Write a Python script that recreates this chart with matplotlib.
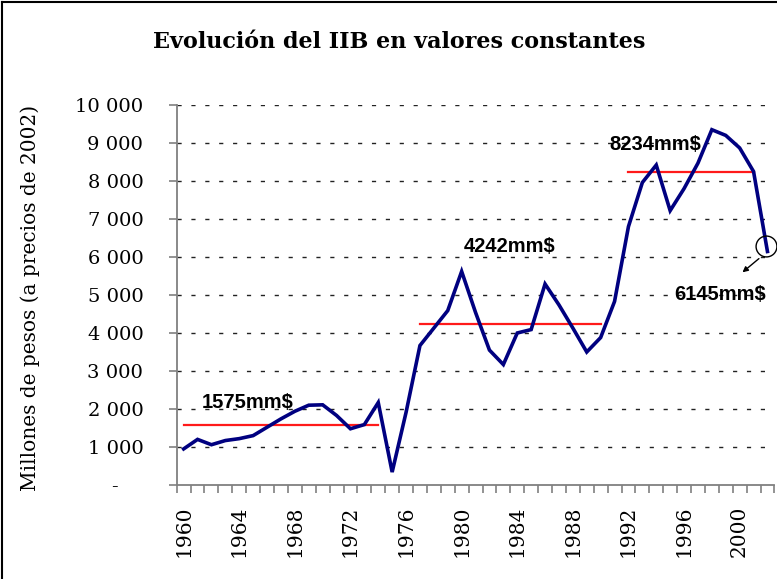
import numpy as np
import matplotlib
matplotlib.use("Agg")
import matplotlib.pyplot as plt
from matplotlib.lines import Line2D
from matplotlib.transforms import ScaledTranslation

years = list(range(1960, 2003))
iib = [950, 1200, 1060, 1170, 1220, 1300, 1520, 1740, 1940, 2100,
       2110, 1830, 1480, 1590, 2170, 340, 1910, 3670, 4130, 4590,
       5620, 4540, 3550, 3170, 4000, 4090, 5290, 4740, 4130, 3500,
       3880, 4830, 6800, 7960, 8420, 7220, 7800, 8470, 9350, 9200,
       8870, 8250, 6145]

# periods and their averages (start year, end year, value)
period_start = [1960, 1977, 1992]
period_end = [1974, 1990, 2001]
period_mean = [1575, 4242, 8234]
period_labels = ["1575mm$", "4242mm$", "8234mm$"]

last_label = "6145mm$"
yticks = list(range(0, 11000, 1000))
ytick_labels = ["-    "] + ["{:,}".format(v).replace(",", " ") for v in yticks[1:]]

W, H = 777, 579
fig = plt.figure(figsize=(W / 100, H / 100), dpi=100)
ax = fig.add_axes([176.7 / W, 1 - 485 / H, 597.7 / W, 380 / H])

x = np.arange(len(years))
ax.set_xlim(-0.5, len(years) - 0.5)
ax.set_ylim(0, 10000)

# dashed horizontal grid
for v in yticks[1:]:
    ax.axhline(v, color="#222222", lw=1.0, linestyle=(0, (3, 7)), zorder=1)

# period averages
for s, e, m in zip(period_start, period_end, period_mean):
    ax.plot([years.index(s), years.index(e)], [m, m], color="#ff1a1a", lw=1.6, zorder=2)

ax.plot(x, iib, color="#000080", lw=2.6, zorder=3, solid_joinstyle="miter")

# labels of the averages
sans = dict(family="Liberation Sans", fontweight="bold", fontsize=14.5, color="black")
ax.text(4.63, 2160, period_labels[0], ha="center", va="center", **sans)
ax.text(23.48, 6280, period_labels[1], ha="center", va="center", **sans)
ax.text(33.95, 8950, period_labels[2], ha="center", va="center", **sans)
ax.text(38.56, 5000, last_label, ha="center", va="center", **sans)

# circle and arrow on the last value
ax.plot([x[-1]], [iib[-1]], marker="o", ms=15, mfc="none", mec="black", mew=1.0,
        zorder=4, clip_on=False,
        transform=ax.transData + ScaledTranslation(-1.5 / 100, 5 / 100, fig.dpi_scale_trans))
ax.annotate("", xy=(x[-1], iib[-1]), xytext=(-18, -15), textcoords="offset points",
            arrowprops=dict(arrowstyle="<|-", color="black", lw=1.0, mutation_scale=8,
                            shrinkA=0, shrinkB=8))

# axes style
for side in ["top", "right"]:
    ax.spines[side].set_visible(False)
for side in ["left", "bottom"]:
    ax.spines[side].set_color("#808080")
    ax.spines[side].set_linewidth(1.3)

ax.set_yticks(yticks)
ax.set_yticklabels(ytick_labels, family="DejaVu Serif", fontsize=14)
ax.tick_params(axis="y", direction="out", length=6, width=1.2, color="#808080", pad=18)

ax.set_xticks(x[::4])
ax.set_xticklabels([str(y) for y in years[::4]], rotation=90, family="DejaVu Serif", fontsize=14.5)
ax.set_xticks(np.arange(-0.5, len(years), 1), minor=True)
ax.tick_params(axis="x", which="major", length=0, pad=15)
ax.tick_params(axis="x", which="minor", direction="out", length=6, width=1.2, color="#808080")

fig.text(399 / W, 1 - 42 / H, "Evolución del IIB en valores constantes",
         ha="center", va="center", family="DejaVu Serif", fontweight="bold", fontsize=16)
fig.text(30 / W, 1 - 298 / H, "Millones de pesos (a precios de 2002)",
         ha="center", va="center", rotation=90, family="DejaVu Serif", fontsize=14.5)

# chart frame
fig.add_artist(Line2D([2 / W, 2 / W], [0, 1 - 2 / H], color="black", lw=1.5))
fig.add_artist(Line2D([2 / W, 1], [1 - 2 / H, 1 - 2 / H], color="black", lw=1.5))

fig.savefig("out.png", dpi=100)
